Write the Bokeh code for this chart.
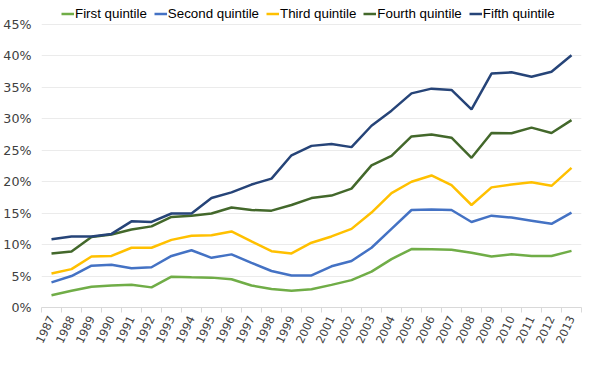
from bokeh.plotting import figure
from bokeh.models import FixedTicker, Legend, LegendItem, Range1d, CustomJSTickFormatter
from bokeh.embed import file_html
from bokeh.resources import INLINE

years = list(range(1987, 2014))
first = [1.95, 2.65, 3.3, 3.5, 3.6, 3.2, 4.9, 4.8, 4.75, 4.5, 3.5, 2.95, 2.65, 2.9, 3.6, 4.35, 5.7, 7.7, 9.3, 9.25, 9.2, 8.7, 8.1, 8.45, 8.2, 8.2, 9.0]
second = [4.0, 5.0, 6.65, 6.8, 6.25, 6.4, 8.2, 9.1, 7.9, 8.45, 7.1, 5.8, 5.1, 5.1, 6.55, 7.4, 9.5, 12.5, 15.5, 15.6, 15.5, 13.6, 14.6, 14.3, 13.8, 13.3, 15.1]
third = [5.4, 6.1, 8.1, 8.2, 9.5, 9.5, 10.75, 11.4, 11.5, 12.1, 10.5, 8.96, 8.6, 10.3, 11.3, 12.5, 15.1, 18.2, 20.0, 21.0, 19.45, 16.3, 19.1, 19.55, 19.9, 19.35, 22.2]
fourth = [8.6, 8.9, 11.2, 11.6, 12.4, 12.9, 14.4, 14.6, 14.95, 15.9, 15.5, 15.4, 16.3, 17.4, 17.8, 18.9, 22.6, 24.1, 27.2, 27.5, 27.0, 23.8, 27.75, 27.7, 28.6, 27.75, 29.8]
fifth = [10.85, 11.3, 11.3, 11.7, 13.7, 13.6, 14.95, 14.95, 17.4, 18.3, 19.55, 20.5, 24.2, 25.7, 26.0, 25.5, 28.9, 31.3, 34.05, 34.8, 34.6, 31.5, 37.2, 37.4, 36.7, 37.5, 40.1]
names = ["First quintile", "Second quintile", "Third quintile", "Fourth quintile", "Fifth quintile"]
colors = ["#70AD47", "#4472C4", "#FFC000", "#43682B", "#264478"]
series = [first, second, third, fourth, fifth]
y_ticks = [0, 5, 10, 15, 20, 25, 30, 35, 40, 45]

W, H = 584, 349
TOP, BOTTOM, LEFT, RIGHT = 2, 42, 40, 3
frame_h = H - TOP - BOTTOM          # 305 px
px_per_unit = (frame_h - 22) / 45.0  # 45% line 22px below frame top
y_max = frame_h / px_per_unit

p = figure(width=W, height=H, output_backend="svg", toolbar_location=None,
           x_range=Range1d(years[0] - 0.5, years[-1] + 0.5), y_range=Range1d(0, y_max),
           min_border_left=LEFT, min_border_right=RIGHT, min_border_top=TOP, min_border_bottom=BOTTOM)
p.outline_line_color = None
p.background_fill_color = "white"

items = []
for name, col, vals in zip(names, colors, series):
    r = p.line(years, vals, line_color=col, line_width=2.5)
    items.append(LegendItem(label=name, renderers=[r]))

legend = Legend(items=items, orientation="horizontal", location=(20, frame_h - 19),
                label_text_font="Liberation Sans", label_text_font_size="10pt",
                label_text_color="#000000", glyph_width=13, glyph_height=13,
                label_standoff=1, spacing=7, padding=0, margin=0,
                border_line_color=None, background_fill_alpha=0, label_height=13)
p.add_layout(legend, "center")

p.yaxis.ticker = FixedTicker(ticks=y_ticks)
p.yaxis.formatter = CustomJSTickFormatter(code="return tick + '%';")
p.yaxis.axis_line_color = None
p.yaxis.major_tick_line_color = None
p.yaxis.minor_tick_line_color = None
p.yaxis.major_label_text_font = "DejaVu Sans"
p.yaxis.major_label_text_font_size = "9.5pt"
p.yaxis.major_label_text_color = "#404040"
p.yaxis.major_label_standoff = 4

p.xaxis.ticker = FixedTicker(ticks=years, minor_ticks=[y - 0.5 for y in years] + [years[-1] + 0.5])
p.xaxis.axis_line_color = "#D9D9D9"
p.xaxis.major_tick_line_color = None
p.xaxis.minor_tick_line_color = "#D9D9D9"
p.xaxis.minor_tick_out = 5
p.xaxis.minor_tick_in = 0
p.xaxis.major_label_orientation = 1.13
p.xaxis.major_label_text_font = "DejaVu Sans"
p.xaxis.major_label_text_font_size = "8.5pt"
p.xaxis.major_label_text_color = "#404040"
p.xaxis.major_label_standoff = 3

p.xgrid.grid_line_color = None
p.ygrid.ticker = FixedTicker(ticks=y_ticks)
p.ygrid.grid_line_color = "#EBEBEB"
p.ygrid.grid_line_width = 1

open("out.html", "w").write(file_html(p, INLINE))
